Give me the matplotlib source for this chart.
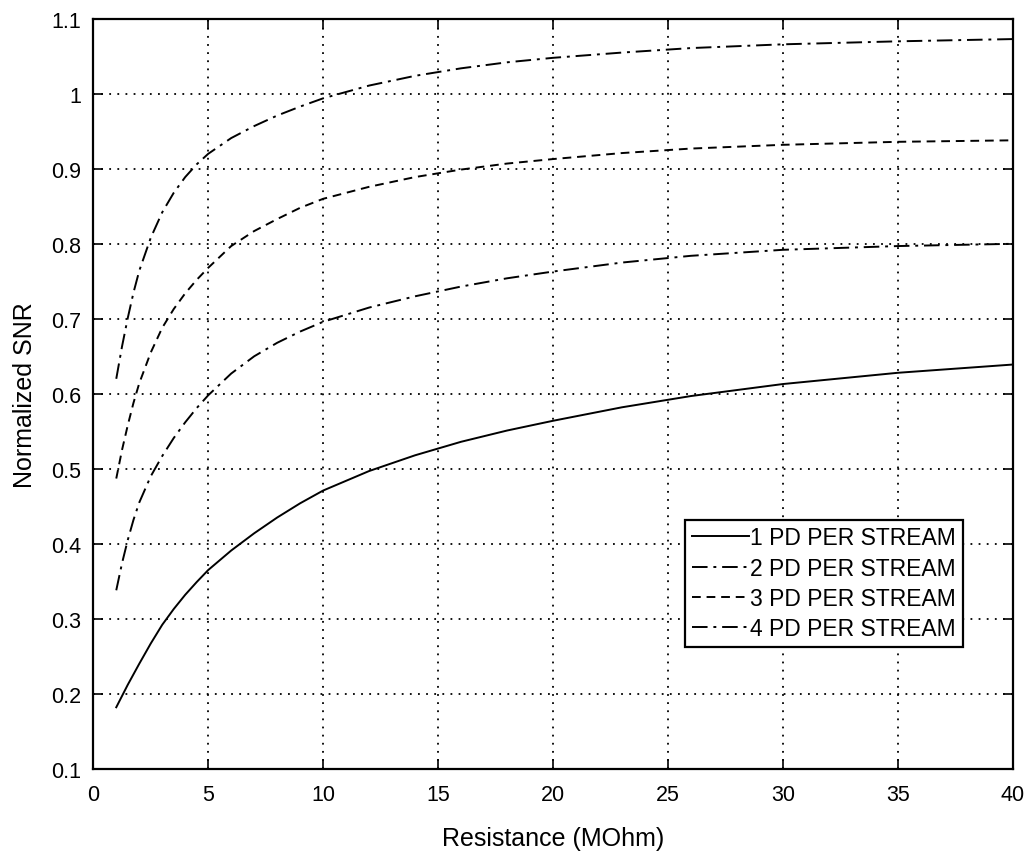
import numpy as np
import matplotlib
matplotlib.use("Agg")
import matplotlib.pyplot as plt

plt.rcParams['font.family'] = ['Liberation Sans', 'DejaVu Sans']

resistance = [1, 1.25, 1.5, 1.75, 2, 2.5, 3, 3.5, 4, 4.5, 5, 6, 7, 8, 9, 10,
              12, 14, 16, 18, 20, 23, 26, 30, 35, 40]

# normalized SNR
snr_1pd = [0.182, 0.197, 0.212, 0.226, 0.24, 0.267, 0.292, 0.313, 0.332, 0.349,
           0.365, 0.391, 0.414, 0.435, 0.454, 0.471, 0.497, 0.518, 0.536, 0.551,
           0.564, 0.582, 0.597, 0.613, 0.628, 0.639]
snr_2pd = [0.338, 0.374, 0.405, 0.432, 0.455, 0.49, 0.517, 0.541, 0.562, 0.581,
           0.598, 0.627, 0.65, 0.668, 0.683, 0.696, 0.715, 0.73, 0.743, 0.754,
           0.763, 0.775, 0.784, 0.792, 0.797, 0.8]
snr_3pd = [0.487, 0.525, 0.558, 0.588, 0.614, 0.655, 0.688, 0.713, 0.734, 0.752,
           0.768, 0.797, 0.817, 0.833, 0.848, 0.86, 0.876, 0.889, 0.899, 0.907,
           0.913, 0.921, 0.927, 0.932, 0.936, 0.938]
snr_4pd = [0.62, 0.663, 0.701, 0.735, 0.764, 0.808, 0.842, 0.868, 0.889, 0.906,
           0.92, 0.941, 0.957, 0.971, 0.983, 0.994, 1.011, 1.024, 1.034, 1.042,
           1.048, 1.055, 1.061, 1.066, 1.07, 1.073]

labels = ['1 PD PER STREAM', '2 PD PER STREAM', '3 PD PER STREAM', '4 PD PER STREAM']

x_ticks = [0, 5, 10, 15, 20, 25, 30, 35, 40]
y_ticks = [0.1, 0.2, 0.3, 0.4, 0.5, 0.6, 0.7, 0.8, 0.9, 1.0, 1.1]
y_tick_labels = ['0.1', '0.2', '0.3', '0.4', '0.5', '0.6', '0.7', '0.8', '0.9', '1', '1.1']

fig = plt.figure(figsize=(10.25, 8.62), dpi=100)
ax = fig.add_axes([0.091, 0.107, 0.897, 0.870])

lw = 1.4
dashdot = (0, (8, 3, 1.5, 3))
ax.plot(resistance, snr_1pd, color='black', lw=lw, linestyle='-', label=labels[0])
ax.plot(resistance, snr_2pd, color='black', lw=lw, linestyle=dashdot, label=labels[1])
ax.plot(resistance, snr_3pd, color='black', lw=lw, linestyle=(0, (4.5, 3)), label=labels[2])
ax.plot(resistance, snr_4pd, color='black', lw=lw, linestyle=dashdot, label=labels[3])

ax.set_xlim(0, 40)
ax.set_ylim(0.1, 1.1)
ax.set_xticks(x_ticks)
ax.set_yticks(y_ticks)
ax.set_yticklabels(y_tick_labels)
ax.tick_params(direction='in', top=True, right=True, length=7, width=1.2,
               labelsize=15.5)
ax.tick_params(axis='x', pad=11)
ax.tick_params(axis='y', pad=9)
ax.grid(True, color='black', linestyle=(0, (1, 3.5)), linewidth=1.3)
for s in ax.spines.values():
    s.set_linewidth(1.6)

ax.set_xlabel('Resistance (MOhm)', fontsize=18, labelpad=15)
ax.set_ylabel('Normalized SNR', fontsize=18, labelpad=10)

leg = ax.legend(loc='lower right', bbox_to_anchor=(0.946, 0.162), fontsize=16.5,
                handlelength=2.5, handletextpad=0.05, labelspacing=0.32,
                borderpad=0.3, borderaxespad=0, fancybox=False, framealpha=1)
leg.get_frame().set_edgecolor('black')
leg.get_frame().set_linewidth(1.6)

fig.savefig('out.png', dpi=100)
